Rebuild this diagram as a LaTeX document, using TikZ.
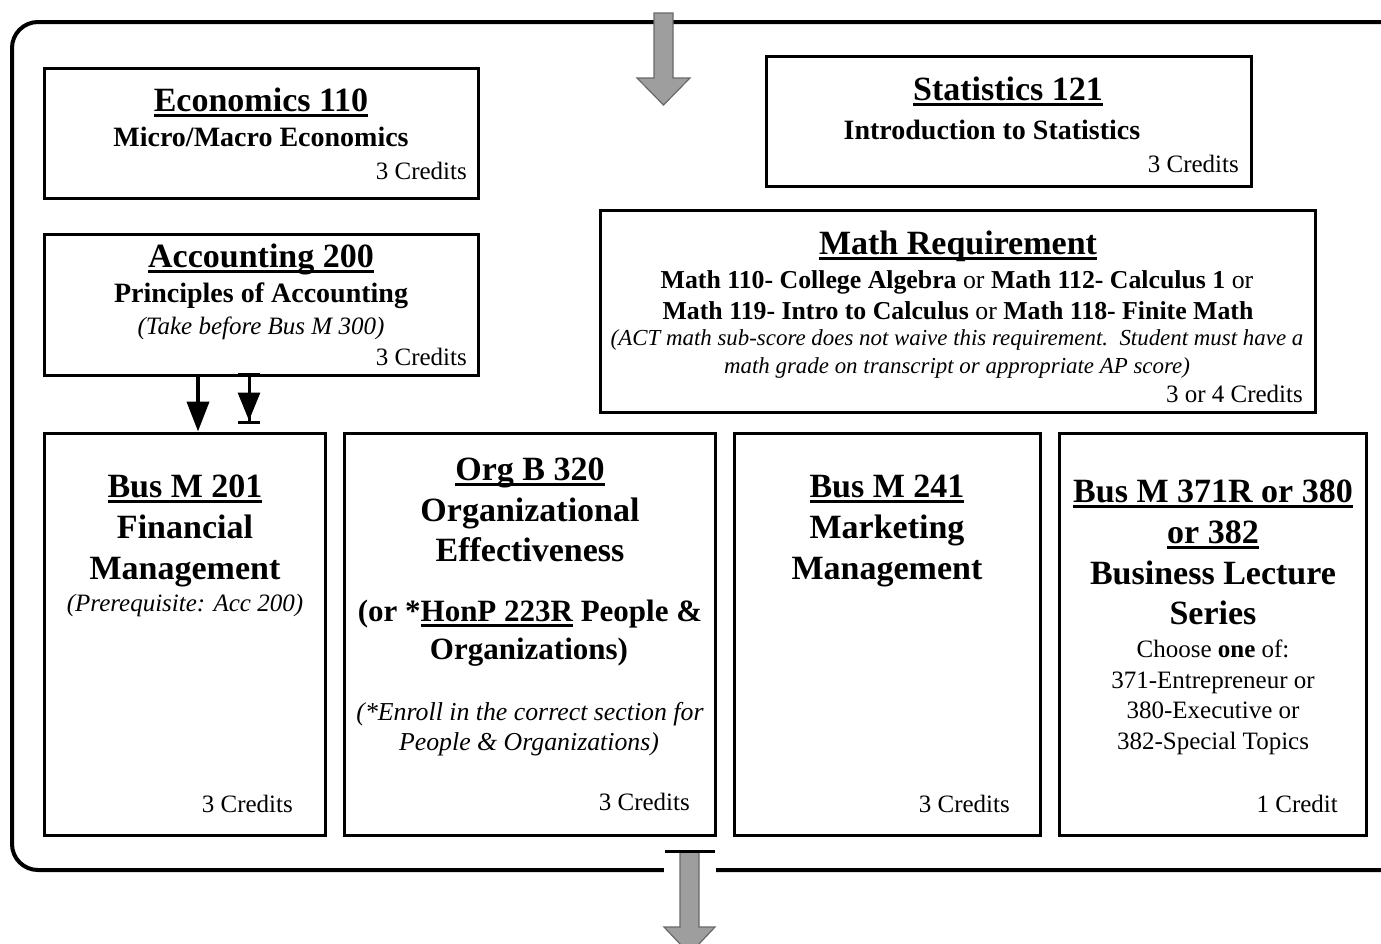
\documentclass[tikz,border=0pt]{standalone}
\usepackage{fontspec}
\setmainfont{Liberation Serif}
\usetikzlibrary{arrows.meta}
\definecolor{arrowfill}{RGB}{158,158,158}
\definecolor{arrowline}{RGB}{105,105,105}
\newcommand{\ulx}[1]{\setbox0\hbox{#1}\leavevmode\rlap{\rule[-6pt]{\wd0}{2.8pt}}\box0\relax}
\tikzset{
  box/.style={draw, line width=3pt, inner sep=0pt},
  tb34/.style={anchor=base, inner sep=0pt, font=\fontsize{34}{40}\selectfont\bfseries},
  tb31/.style={anchor=base, inner sep=0pt, font=\fontsize{31}{37}\selectfont\bfseries},
  tb28/.style={anchor=base, inner sep=0pt, font=\fontsize{28}{34}\selectfont\bfseries},
  tr25/.style={anchor=base, inner sep=0pt, font=\fontsize{25}{30}\selectfont},
  tr26/.style={anchor=base, inner sep=0pt, font=\fontsize{25.8}{30}\selectfont},
  cr/.style={anchor=base east, inner sep=0pt, font=\fontsize{25}{30}\selectfont},
  ti25/.style={anchor=base, inner sep=0pt, font=\fontsize{25}{30}\selectfont\itshape},
  ti26/.style={anchor=base, inner sep=0pt, font=\fontsize{25.8}{30}\selectfont\itshape},
  ti23/.style={anchor=base, inner sep=0pt, font=\fontsize{22.9}{27}\selectfont\itshape},
  garrow/.style={fill=arrowfill, draw=arrowline, line width=1.2pt, line join=miter},
}
\begin{document}
\begin{tikzpicture}[x=1pt,y=-1pt]
\useasboundingbox (0,0) rectangle (1381,943);
\clip (0,0) rectangle (1381,943);
% outer frame
\draw[line width=4pt, rounded corners=26pt] (12,22) rectangle (1410,870);
% boxes
\node[box, minimum width=434pt, minimum height=130pt] (eco) at (261,133) {};
\node[box, minimum width=485pt, minimum height=130pt] (stat) at (1008.5,121) {};
\node[box, minimum width=434pt, minimum height=141pt] (acc) at (261,304.5) {};
\node[box, minimum width=715pt, minimum height=202pt] (math) at (957.5,311) {};
\node[box, minimum width=281pt, minimum height=402pt] (b201) at (184.5,634) {};
\node[box, minimum width=371pt, minimum height=402pt] (org) at (529.5,634) {};
\node[box, minimum width=306pt, minimum height=402pt] (b241) at (887,634) {};
\node[box, minimum width=307pt, minimum height=402pt] (b371) at (1212.5,634) {};
% Economics
\node[tb34] (ecoT) at (261,111) {\ulx{Economics 110}};
\node[tb28] (ecoS) at (261,146) {Micro/Macro Economics};
\node[cr] (ecoC) at (467,179) {3 Credits};
% Statistics
\node[tb34] (statT) at (1008,100) {\ulx{Statistics 121}};
\node[tb28] (statS) at (992,139) {Introduction to Statistics};
\node[cr] (statC) at (1239,172) {3 Credits};
% Accounting
\node[tb34] (accT) at (261,267) {\ulx{Accounting 200}};
\node[tb28] (accS) at (261,302) {Principles of Accounting};
\node[ti25] (accN) at (261,334) {(Take before Bus M 300)};
\node[cr] (accC) at (467,365) {3 Credits};
% Math
\node[tb34] (mathT) at (958,254) {\ulx{Math Requirement}};
\node[tr26] (mathA) at (957,288) {\textbf{Math 110- College Algebra} or \textbf{Math 112- Calculus 1} or};
\node[tr26] (mathB) at (958,319) {\textbf{Math 119- Intro to Calculus} or \textbf{Math 118- Finite Math}};
\node[ti23] (mathN1) at (957,345) {(ACT math sub-score does not waive this requirement.\ \ Student must have a};
\node[ti23] (mathN2) at (957,373) {math grade on transcript or appropriate AP score)};
\node[cr] (mathC) at (1303,402) {3 or 4 Credits};
% Bus M 201
\node[tb34] (b201T) at (185,497) {\ulx{Bus M 201}};
\node[tb34] (b201A) at (185,538) {Financial};
\node[tb34] (b201B) at (185,579) {Management};
\node[ti25] (b201N) at (185,611) {(Prerequisite: Acc 200)};
\node[cr] (b201C) at (293,812) {3 Credits};
% Org B 320
\node[tb34] (orgT) at (530,480) {\ulx{Org B 320}};
\node[tb34] (orgA) at (530,521) {Organizational};
\node[tb34] (orgB) at (530,561) {Effectiveness};
\node[tb31] (orgD) at (530,621) {(or *\ulx{HonP 223R} People \&};
\node[tb31] (orgE) at (529,659) {Organizations)};
\node[ti26] (orgN1) at (530,720) {(*Enroll in the correct section for};
\node[ti26] (orgN2) at (529,750) {People \& Organizations)};
\node[cr] (orgC) at (690,810) {3 Credits};
% Bus M 241
\node[tb34] (b241T) at (887,497) {\ulx{Bus M 241}};
\node[tb34] (b241A) at (887,538) {Marketing};
\node[tb34] (b241B) at (887,579) {Management};
\node[cr] (b241C) at (1010,812) {3 Credits};
% Bus M 371R
\node[tb34] (b371T) at (1213,502) {\ulx{Bus M 371R or 380}};
\node[tb34] (b371U) at (1213,543) {\ulx{or 382}};
\node[tb34] (b371A) at (1213,584) {Business Lecture};
\node[tb34] (b371B) at (1213,624) {Series};
\node[tr25] (b371N1) at (1213,657) {Choose \textbf{one} of:};
\node[tr25] (b371N2) at (1213,688) {371-Entrepreneur or};
\node[tr25] (b371N3) at (1213,718) {380-Executive or};
\node[tr25] (b371N4) at (1213,749) {382-Special Topics};
\node[cr] (b371C) at (1338,812) {1 Credit};
% black arrows
\coordinate (a1) at (198,0);
\coordinate (a2) at (249,0);
\draw[line width=4pt, -{Triangle[width=22pt,length=30pt]}] (acc.south -| a1) -- (b201.north -| a1);
\draw[line width=3pt, {Bar[width=22pt]}-{Triangle[width=22pt,length=28pt]Bar[width=22pt]}, shorten <=-4pt, shorten >=8pt] (acc.south -| a2) -- (b201.north -| a2);
% gray arrows
\draw[garrow] (654,13) -- (673,13) -- (673,78) -- (690,78) -- (663.5,105) -- (637,78) -- (654,78) -- cycle;
\fill[white] (664,854) rectangle (716,880);
\draw[garrow] (680,852) -- (699,852) -- (699,927) -- (715,927) -- (689.5,954) -- (664,927) -- (680,927) -- cycle;
\draw[line width=3pt] (665,851) -- (715,851);
\end{tikzpicture}
\end{document}
